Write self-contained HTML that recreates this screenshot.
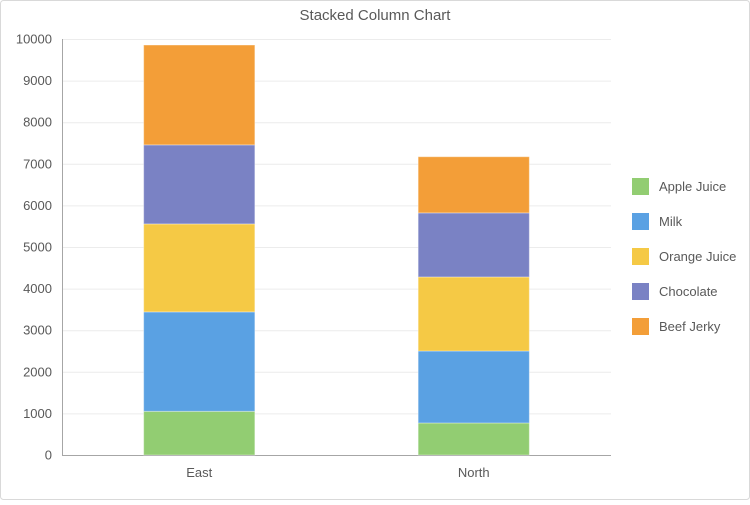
<!DOCTYPE html>
<html><head><meta charset="utf-8"><style>
body{margin:0;background:#fff;font-family:"Liberation Sans",sans-serif;}
svg text{font-family:"Liberation Sans",sans-serif;}
</style></head><body>
<svg id="chart" width="750" height="500">
<rect x="0.5" y="0.5" width="749" height="499" rx="3" fill="#fff" stroke="#d9d9d9"/>
<text x="375" y="20" text-anchor="middle" font-size="15" fill="#595959">Stacked Column Chart</text>
<g id="grid"></g><g id="bars"></g><g id="axes"></g><g id="legend"></g>
</svg>
<script>
const categories=["East","North"];
const seriesNames=["Apple Juice","Milk","Orange Juice","Chocolate","Beef Jerky"];
const appleJuice=[1050,770];
const milk=[2390,1730];
const orangeJuice=[2115,1780];
const chocolate=[1900,1540];
const beefJerky=[2400,1350];
const yTicks=[0,1000,2000,3000,4000,5000,6000,7000,8000,9000,10000];
const colors=["#92cd72","#5aa1e3","#f5c945","#7a82c4","#f39e38"];
const series=[appleJuice,milk,orangeJuice,chocolate,beefJerky];
const NS="http://www.w3.org/2000/svg";
const L=62,R=611,T=39,B=455,yMax=10000;
const y=v=>B-(v/yMax)*(B-T);
const band=(R-L)/categories.length;
const xc=i=>L+band*(i+0.5);
const bw=band*0.405;
function mk(tag,attrs,parent){const e=document.createElementNS(NS,tag);for(const k in attrs)e.setAttribute(k,attrs[k]);parent.appendChild(e);return e;}
const grid=document.getElementById('grid'),bars=document.getElementById('bars'),axes=document.getElementById('axes'),legend=document.getElementById('legend');
yTicks.forEach(t=>{
  const ln=mk('line',{x1:L,x2:R,y1:y(t)+0.5,y2:y(t)+0.5,stroke:t===0?'#a6a6a6':'#ececec'},grid);
  
  
  const tx=mk('text',{x:52,y:y(t)+4.5,'text-anchor':'end','font-size':13,fill:'#595959'},axes);
  tx.textContent=t;
  
  
});
const ax=mk('line',{x1:L+0.5,x2:L+0.5,y1:T,y2:B,stroke:'#a6a6a6'},axes);


categories.forEach((c,i)=>{
  let acc=0;
  series.forEach((s,j)=>{
    const v=s[i];
    const r=mk('rect',{x:xc(i)-bw/2,y:y(acc+v),width:bw,height:y(acc)-y(acc+v),fill:colors[j],stroke:'#fff','stroke-opacity':0.35,'stroke-width':1},bars);
    
    
    acc+=v;
  });
  const tx=mk('text',{x:xc(i),y:B+22,'text-anchor':'middle','font-size':13,fill:'#595959'},axes);
  tx.textContent=c;
  
  
});
seriesNames.forEach((n,j)=>{
  const g=mk('g',{},legend);
  
  
  const sy=178+j*35;
  mk('rect',{x:632,y:sy,width:17,height:17,fill:colors[j]},g);
  const t=mk('text',{x:659,y:sy+13,'font-size':13,fill:'#595959'},g);
  t.textContent=n;
});
</script>
</body></html>
